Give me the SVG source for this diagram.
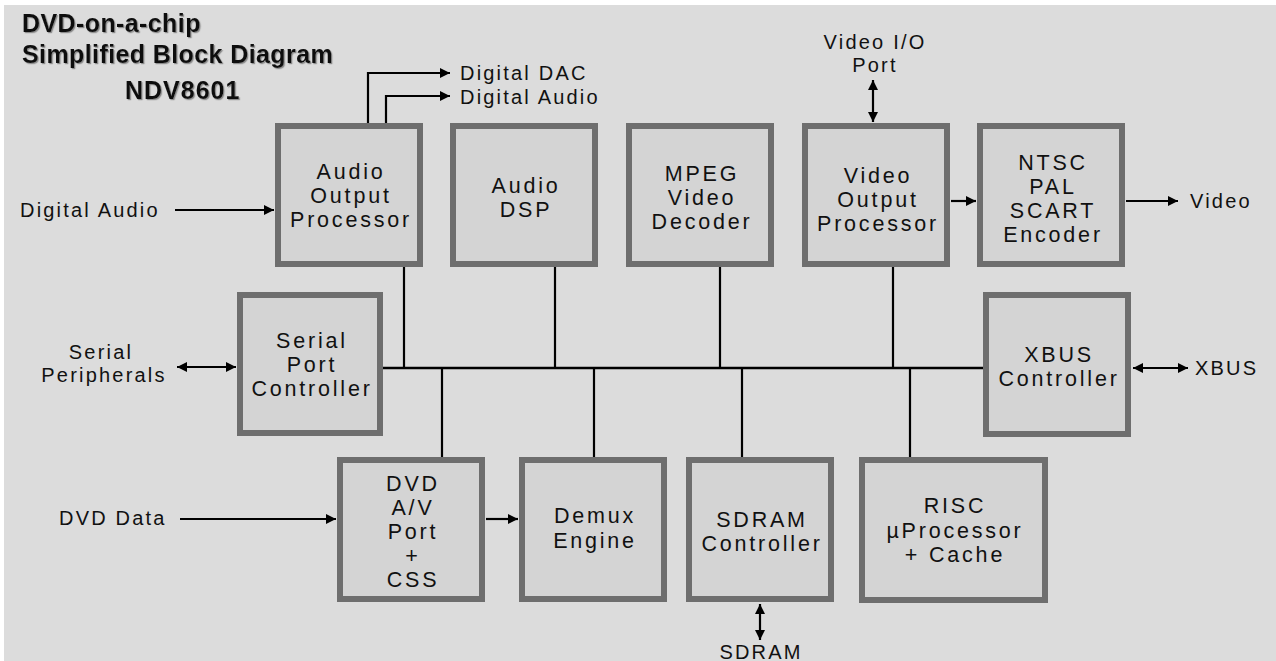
<svg xmlns="http://www.w3.org/2000/svg" width="1276" height="661" viewBox="0 0 1276 661">
<style>
.box rect{fill:#d4d4d4;stroke:#6e6e6e;stroke-width:6}
text{font-family:"Liberation Sans",Arial,sans-serif;fill:#111}
.bt{font-size:21.5px;letter-spacing:2.8px;text-anchor:middle}
.lbl{font-size:20px;letter-spacing:2.2px}
.lc{text-anchor:middle}
.ttl{font-size:25px;font-weight:bold;letter-spacing:0.4px;filter:url(#sh)}
.ln{stroke:#000;stroke-width:2.2;fill:none}
.ar{marker-end:url(#ah)}
.dar{marker-start:url(#ah);marker-end:url(#ah)}
</style>
<defs>
<marker id="ah" viewBox="0 0 10 10" refX="10" refY="5" markerWidth="11" markerHeight="10" markerUnits="userSpaceOnUse" orient="auto-start-reverse"><path d="M0,0 L10,5 L0,10 z" fill="#000"/></marker>
<filter id="sh" x="-5%" y="-20%" width="110%" height="150%"><feDropShadow dx="1.2" dy="1.2" stdDeviation="0.6" flood-color="#777" flood-opacity="0.8"/></filter>
</defs>
<rect x="0" y="0" width="1276" height="661" fill="#ffffff"/>
<rect x="4" y="5" width="1272" height="656" fill="#dcdcdc"/>

<g id="title">
<text class="ttl" x="22" y="32">DVD-on-a-chip</text>
<text class="ttl" x="22" y="63">Simplified Block Diagram</text>
<text class="ttl" x="125" y="99" style="letter-spacing:1px">NDV8601</text>
</g>

<g id="connectors">
<path class="ln" d="M404,267 V368 M555,267 V368 M720,267 V368 M893,267 V368"/>
<path class="ln" d="M383,368 H983" style="stroke-width:2.6"/>
<path class="ln" d="M442,368 V457 M594,368 V457 M742,368 V457 M910,368 V457"/>
<path class="ln ar" d="M368,123 V73 H450"/>
<path class="ln ar" d="M386,123 V96 H450"/>
<path class="ln dar" d="M873,80 V122"/>
<path class="ln ar" d="M175,210 H274"/>
<path class="ln dar" d="M177,367 H236"/>
<path class="ln ar" d="M180,519 H336"/>
<path class="ln ar" d="M486,519 H518"/>
<path class="ln ar" d="M951,201 H976"/>
<path class="ln ar" d="M1126,201 H1178"/>
<path class="ln dar" d="M1133,368 H1188"/>
<path class="ln dar" d="M760,604 V640"/>
</g>

<g id="labels">
<text class="lbl" x="460" y="80">Digital DAC</text>
<text class="lbl" x="460" y="104">Digital Audio</text>
<text class="lbl lc" x="875" y="49">Video I/O</text>
<text class="lbl lc" x="875" y="72">Port</text>
<text class="lbl" x="20" y="217">Digital Audio</text>
<text class="lbl lc" x="101" y="359">Serial</text>
<text class="lbl lc" x="104" y="382">Peripherals</text>
<text class="lbl" x="59" y="525">DVD Data</text>
<text class="lbl" x="1190" y="208">Video</text>
<text class="lbl" x="1195" y="375">XBUS</text>
<text class="lbl lc" x="761" y="659">SDRAM</text>
</g>

<g id="aop" class="box"><rect x="278" y="126" width="142" height="138"/>
<text class="bt" x="351" y="179">Audio</text><text class="bt" x="351" y="203">Output</text><text class="bt" x="351" y="227">Processor</text></g>
<g id="dsp" class="box"><rect x="453" y="126" width="142" height="138"/>
<text class="bt" x="526" y="193">Audio</text><text class="bt" x="526" y="217">DSP</text></g>
<g id="mpeg" class="box"><rect x="629" y="126" width="142" height="138"/>
<text class="bt" x="702" y="181">MPEG</text><text class="bt" x="702" y="205">Video</text><text class="bt" x="702" y="229">Decoder</text></g>
<g id="vop" class="box"><rect x="805" y="126" width="142" height="138"/>
<text class="bt" x="878" y="183">Video</text><text class="bt" x="878" y="207">Output</text><text class="bt" x="878" y="231">Processor</text></g>
<g id="ntsc" class="box"><rect x="980" y="126" width="142" height="138"/>
<text class="bt" x="1053" y="170">NTSC</text><text class="bt" x="1053" y="194">PAL</text><text class="bt" x="1053" y="218">SCART</text><text class="bt" x="1053" y="242">Encoder</text></g>
<g id="serial" class="box"><rect x="240" y="295" width="140" height="138"/>
<text class="bt" x="312" y="348">Serial</text><text class="bt" x="312" y="372">Port</text><text class="bt" x="312" y="396">Controller</text></g>
<g id="xbus" class="box"><rect x="986" y="295" width="142" height="139"/>
<text class="bt" x="1059" y="362">XBUS</text><text class="bt" x="1059" y="386">Controller</text></g>
<g id="dvdav" class="box"><rect x="340" y="460" width="142" height="139"/>
<text class="bt" x="413" y="491">DVD</text><text class="bt" x="413" y="515">A/V</text><text class="bt" x="413" y="539">Port</text><text class="bt" x="413" y="563">+</text><text class="bt" x="413" y="587">CSS</text></g>
<g id="demux" class="box"><rect x="522" y="460" width="142" height="139"/>
<text class="bt" x="595" y="523">Demux</text><text class="bt" x="595" y="548">Engine</text></g>
<g id="sdramc" class="box"><rect x="689" y="460" width="142" height="139"/>
<text class="bt" x="762" y="527">SDRAM</text><text class="bt" x="762" y="551">Controller</text></g>
<g id="risc" class="box"><rect x="862" y="460" width="183" height="140"/>
<text class="bt" x="955" y="513">RISC</text><text class="bt" x="955" y="538">µProcessor</text><text class="bt" x="955" y="562">+ Cache</text></g>
</svg>
